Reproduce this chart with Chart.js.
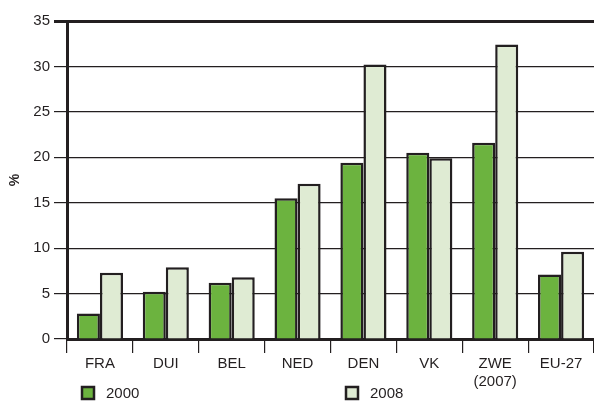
<!DOCTYPE html>
<html>
<head>
<meta charset="utf-8">
<script src="https://cdn.jsdelivr.net/npm/chart.js@4/dist/chart.umd.min.js"></script>
<style>
  html, body { margin: 0; padding: 0; background: #fff; }
  #wrap { width: 594px; height: 401px; position: relative; }
</style>
</head>
<body>
<div id="wrap"><canvas id="chart"></canvas></div>
<script>
// data
const countries = ['FRA', 'DUI', 'BEL', 'NED', 'DEN', 'VK', ['ZWE', '(2007)'], 'EU-27'];
const values2000 = [2.8, 5.2, 6.2, 15.5, 19.4, 20.5, 21.6, 7.1];
const values2008 = [7.3, 7.9, 6.8, 17.1, 30.2, 19.9, 32.4, 9.6];
const seriesNames = ['2000', '2008'];
const yTicks = [0, 5, 10, 15, 20, 25, 30, 35];

const ink = '#231f20';
const green = '#6cb33f';
const paleGreen = '#dfebd3';
Chart.defaults.font.family = '"Liberation Sans", Arial, sans-serif';
Chart.defaults.color = ink;

// legend items sit far apart, so draw them by hand from the dataset colours
const bottomLegend = {
  id: 'bottomLegend',
  afterDraw(chart) {
    const c = chart.ctx;
    const spots = [{ box: 82, text: 106 }, { box: 346, text: 370 }];
    chart.data.datasets.forEach((ds, i) => {
      const s = spots[i];
      c.save();
      c.fillStyle = ds.backgroundColor;
      c.fillRect(s.box, 387, 12, 12);
      c.strokeStyle = ink;
      c.lineWidth = 2.5;
      c.strokeRect(s.box, 387, 12, 12);
      c.fillStyle = ink;
      c.font = '15px "Liberation Sans", Arial, sans-serif';
      c.textBaseline = 'middle';
      c.fillText(ds.label, s.text, 393.5);
      c.restore();
    });
  }
};

const ctx = document.getElementById('chart').getContext('2d');
new Chart(ctx, {
  type: 'bar',
  data: {
    labels: countries,
    datasets: [{
      label: seriesNames[0],
      data: values2000,
      backgroundColor: green,
      borderColor: ink,
      borderWidth: 2.5,
      borderSkipped: 'bottom'
    }, {
      label: seriesNames[1],
      data: values2008,
      backgroundColor: paleGreen,
      borderColor: ink,
      borderWidth: 2.5,
      borderSkipped: 'bottom'
    }]
  },
  options: {
    responsive: true,
    maintainAspectRatio: false,
    animation: false,
    layout: { padding: { top: 21, right: 0, bottom: 0, left: 0 } },
    datasets: { bar: { categoryPercentage: 0.7, barPercentage: 1.0 } },
    plugins: {
      legend: { display: false },
      tooltip: { enabled: false }
    },
    scales: {
      x: {
        offset: true,
        grid: {
          offset: true,
          drawOnChartArea: false,
          drawTicks: true,
          tickLength: 14,
          color: ink,
          lineWidth: 1.2
        },
        border: { display: true, color: ink, width: 3 },
        ticks: { font: { size: 15 }, padding: 2, color: ink, maxRotation: 0 },
        afterFit(scale) { scale.height = 62; }
      },
      y: {
        min: 0,
        max: 35,
        afterBuildTicks(scale) { scale.ticks = yTicks.map(v => ({ value: v })); },
        grid: {
          color: ink,
          lineWidth: (c) => c.tick && c.tick.value === 35 ? 3 : 1.2,
          tickLength: 13
        },
        border: { display: true, color: ink, width: 3 },
        ticks: { font: { size: 15 }, padding: 4, color: ink },
        title: {
          display: true,
          text: '%',
          font: { size: 14, weight: 'bold' },
          color: ink,
          padding: { top: 7, bottom: 0 }
        },
        afterFit(scale) { scale.width = 67; }
      }
    }
  },
  plugins: [bottomLegend]
});
</script>
</body>
</html>
